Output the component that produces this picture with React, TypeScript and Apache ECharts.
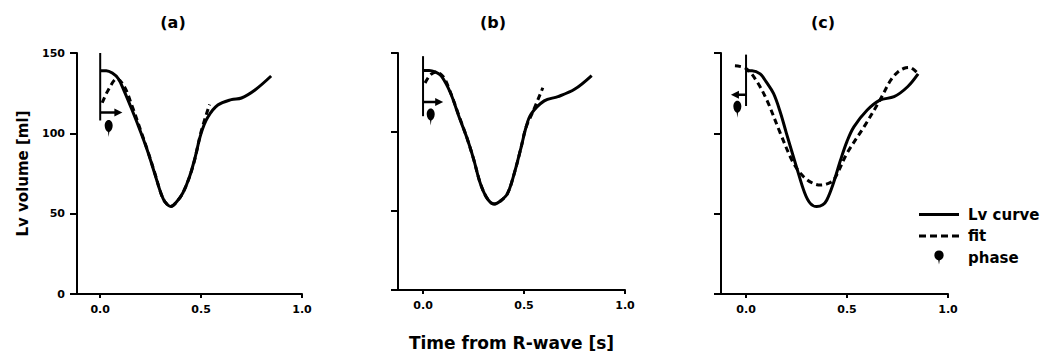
import React, { useEffect, useRef } from "react";
import * as echarts from "echarts";

// ---------- data ----------
const panelTitles = ["(a)", "(b)", "(c)"];
const xTickValues = [0, 0.5, 1.0];
const yTickValues = [0, 50, 100, 150];
const legendNames = ["Lv curve", "fit", "phase"];
const yAxisTitle = "Lv volume [ml]";
const xAxisTitle = "Time from R-wave [s]";

// Panel (a)
const lvCurveA: [number, number][] = [
  [0, 139], [0.03, 139], [0.06, 137.5], [0.09, 134], [0.12, 126], [0.158, 114.5],
  [0.2, 101], [0.233, 89.6], [0.27, 75], [0.3, 63], [0.32, 57.5], [0.35, 54.5],
  [0.38, 57.5], [0.41, 63], [0.44, 72], [0.467, 83.4], [0.5, 100], [0.533, 110],
  [0.583, 117.6], [0.65, 121], [0.7, 122], [0.767, 127], [0.847, 135.7],
];
const fitA: [number, number][] = [
  [0.01, 119], [0.04, 127], [0.083, 134], [0.12, 129], [0.158, 117], [0.2, 102],
  [0.233, 90], [0.27, 75.5], [0.3, 63], [0.32, 57.5], [0.35, 54.5], [0.38, 57.5],
  [0.41, 63], [0.44, 72], [0.467, 83], [0.5, 101], [0.542, 118],
];
const phaseLineA: [number, number][] = [[0, 150], [0, 108]];
const phaseArrowA: [number, number][] = [[0, 113], [0.09, 113]];
const phaseA: [number, number][] = [[0.042, 103]];

// Panel (b)
const lvCurveB: [number, number][] = [
  [0, 139], [0.03, 139], [0.06, 138], [0.09, 135.5], [0.135, 125], [0.18, 109],
  [0.218, 96], [0.25, 83], [0.285, 67], [0.32, 57.5], [0.352, 54.4], [0.385, 56.5],
  [0.418, 61], [0.45, 73], [0.485, 90], [0.51, 103], [0.535, 111.4], [0.6, 119.7],
  [0.668, 122.4], [0.75, 127], [0.835, 135.7],
];
const fitB: [number, number][] = [
  [0.01, 131], [0.035, 136], [0.065, 138], [0.1, 135], [0.13, 127], [0.18, 109.5],
  [0.218, 96], [0.25, 83], [0.285, 67], [0.32, 57.5], [0.352, 54.4], [0.385, 56.5],
  [0.418, 61], [0.45, 73], [0.485, 90], [0.51, 103], [0.543, 112.5], [0.593, 128],
];
const phaseLineB: [number, number][] = [[0, 148], [0, 110]];
const phaseArrowB: [number, number][] = [[0, 119], [0.08, 119]];
const phaseB: [number, number][] = [[0.038, 109.5]];

// Panel (c)
const lvCurveC: [number, number][] = [
  [0, 139], [0.03, 139], [0.07, 137], [0.1, 132], [0.136, 124.8], [0.17, 113],
  [0.2, 100], [0.25, 79], [0.29, 63], [0.318, 56.4], [0.35, 54.4], [0.38, 55.5],
  [0.4, 58.5], [0.43, 68], [0.468, 83.4], [0.5, 95], [0.534, 104], [0.6, 114.5],
  [0.663, 120.7], [0.733, 122.8], [0.8, 129], [0.852, 137],
];
const fitC: [number, number][] = [
  [-0.055, 142], [0, 140.4], [0.05, 133], [0.103, 120.7], [0.17, 100], [0.235, 81.4],
  [0.285, 73], [0.33, 69], [0.368, 67.8], [0.4, 68.5], [0.434, 71], [0.5, 87.6],
  [0.584, 104], [0.663, 120.7], [0.716, 133], [0.75, 138], [0.783, 140.5],
  [0.81, 141], [0.833, 139.4], [0.852, 137],
];
const phaseLineC: [number, number][] = [[0, 149], [0, 117]];
const phaseArrowC: [number, number][] = [[0, 124], [-0.055, 124]];
const phaseC: [number, number][] = [[-0.043, 115]];

const lvCurves = [lvCurveA, lvCurveB, lvCurveC];
const fits = [fitA, fitB, fitC];
const phaseLines = [phaseLineA, phaseLineB, phaseLineC];
const phaseArrows = [phaseArrowA, phaseArrowB, phaseArrowC];
const phases = [phaseA, phaseB, phaseC];

// ---------- layout / style ----------
const FONT = "DejaVu Sans";
const BLACK = "#000";
const PHI_PATH =
  "path://M5,0C8,0 10,2.2 10,5C10,8 7.5,10 5.8,10.5L5,15L4.2,10.5C2.5,10 0,8 0,5C0,2.2 2,0 5,0Z";
const SOLID_ICON = "path://M0,0H40V3H0Z";
const DASH_ICON = "path://M0,0H7V3H0Z M11,0H18V3H11Z M22,0H29V3H22Z M33,0H40V3H33Z";
const grids = [
  { left: 77, top: 53, width: 225, height: 241, xMin: -0.115 },
  { left: 398, top: 53, width: 227, height: 241, xMin: -0.124 },
  { left: 721, top: 53, width: 227, height: 241, xMin: -0.124 },
];
const titleX = [173, 493, 823];

export default function App() {
  const ref = useRef<HTMLDivElement>(null);

  useEffect(() => {
    if (!ref.current) return;
    const chart = echarts.init(ref.current, null, { renderer: "svg" });

    const series: any[] = [];
    grids.forEach((_, i) => {
      series.push({
        name: legendNames[0],
        type: "line",
        xAxisIndex: i,
        yAxisIndex: i,
        data: lvCurves[i],
        smooth: 0.35,
        symbol: "none",
        color: BLACK,
        lineStyle: { color: BLACK, width: 3 },
        z: 3,
      });
      series.push({
        name: legendNames[1],
        type: "line",
        xAxisIndex: i,
        yAxisIndex: i,
        data: fits[i],
        smooth: 0.35,
        symbol: "none",
        color: BLACK,
        lineStyle: { color: BLACK, width: 3, type: [6, 4] },
        z: 2,
      });
      series.push({
        name: "phase-line-" + i,
        type: "line",
        xAxisIndex: i,
        yAxisIndex: i,
        data: phaseLines[i],
        symbol: "none",
        lineStyle: { color: BLACK, width: 2 },
        z: 4,
      });
      series.push({
        name: "phase-arrow-" + i,
        type: "line",
        xAxisIndex: i,
        yAxisIndex: i,
        symbol: "none",
        lineStyle: { color: BLACK, width: 2.5 },
        itemStyle: { color: BLACK, opacity: 1 },
        data: phaseArrows[i].map((p, k) =>
          k === phaseArrows[i].length - 1
            ? {
                value: p,
                symbol: "triangle",
                symbolSize: [8, 8],
                symbolRotate: p[0] > 0 ? -90 : 90,
              }
            : { value: p }
        ),
        z: 4,
      });
      series.push({
        name: legendNames[2],
        type: "scatter",
        xAxisIndex: i,
        yAxisIndex: i,
        data: phases[i],
        symbol: PHI_PATH,
        symbolSize: [12, 17],
        symbolKeepAspect: true,
        color: BLACK,
        itemStyle: { color: BLACK, opacity: 1 },
        z: 4,
      });
    });

    const option: any = {
      animation: false,
      backgroundColor: "#fff",
      textStyle: { fontFamily: FONT },
      grid: grids.map((g) => ({
        left: g.left,
        top: g.top,
        width: g.width,
        height: g.height,
        containLabel: false,
      })),
      xAxis: grids.map((g, i) => ({
        type: "value",
        gridIndex: i,
        min: g.xMin,
        max: 1,
        splitLine: { show: false },
        axisLine: { show: true, onZero: false, lineStyle: { color: BLACK, width: 2 } },
        axisTick: {
          show: true,
          length: 4,
          lineStyle: { color: BLACK, width: 2 },
          customValues: xTickValues,
        },
        axisLabel: {
          show: true,
          customValues: xTickValues,
          formatter: (v: number) => v.toFixed(1),
          color: BLACK,
          fontFamily: FONT,
          fontWeight: "bold",
          fontSize: 11,
          margin: 10,
        },
        name: i === 1 ? xAxisTitle : "",
        nameLocation: "middle",
        nameGap: 44,
        nameTextStyle: { color: BLACK, fontFamily: FONT, fontWeight: "bold", fontSize: 17 },
      })),
      yAxis: grids.map((_, i) => ({
        type: "value",
        gridIndex: i,
        min: yTickValues[0],
        max: yTickValues[yTickValues.length - 1],
        interval: 50,
        splitLine: { show: false },
        axisLine: { show: true, onZero: false, lineStyle: { color: BLACK, width: 2 } },
        axisTick: { show: true, length: 7, lineStyle: { color: BLACK, width: 2 } },
        axisLabel: {
          show: i === 0,
          color: BLACK,
          fontFamily: FONT,
          fontWeight: "bold",
          fontSize: 11,
          margin: 12,
        },
        name: i === 0 ? yAxisTitle : "",
        nameLocation: "middle",
        nameRotate: 90,
        nameGap: 47,
        nameTextStyle: { color: BLACK, fontFamily: FONT, fontWeight: "bold", fontSize: 15 },
      })),
      legend: {
        show: true,
        orient: "vertical",
        left: 919,
        top: 207,
        itemWidth: 40,
        itemHeight: 14,
        itemGap: 6.5,
        padding: 0,
        symbolKeepAspect: true,
        textStyle: { color: BLACK, fontFamily: FONT, fontWeight: "bold", fontSize: 15, padding: [0, 0, 0, 4] },
        data: [
          { name: legendNames[0], icon: SOLID_ICON, itemStyle: { color: BLACK } },
          { name: legendNames[1], icon: DASH_ICON, itemStyle: { color: BLACK } },
          { name: legendNames[2], icon: PHI_PATH, itemStyle: { color: BLACK, opacity: 1 } },
        ],
      },
      graphic: panelTitles.map((t, i) => ({
        type: "text",
        x: titleX[i],
        y: 22,
        style: {
          text: t,
          fill: BLACK,
          font: `bold 16px "${FONT}"`,
          textAlign: "center",
          textVerticalAlign: "middle",
        },
      })),
      series,
    };

    chart.setOption(option);
    return () => chart.dispose();
  }, []);

  return (
    <div
      ref={ref}
      style={{ position: "fixed", left: 0, top: 0, width: 1047, height: 356, background: "#fff" }}
    />
  );
}
